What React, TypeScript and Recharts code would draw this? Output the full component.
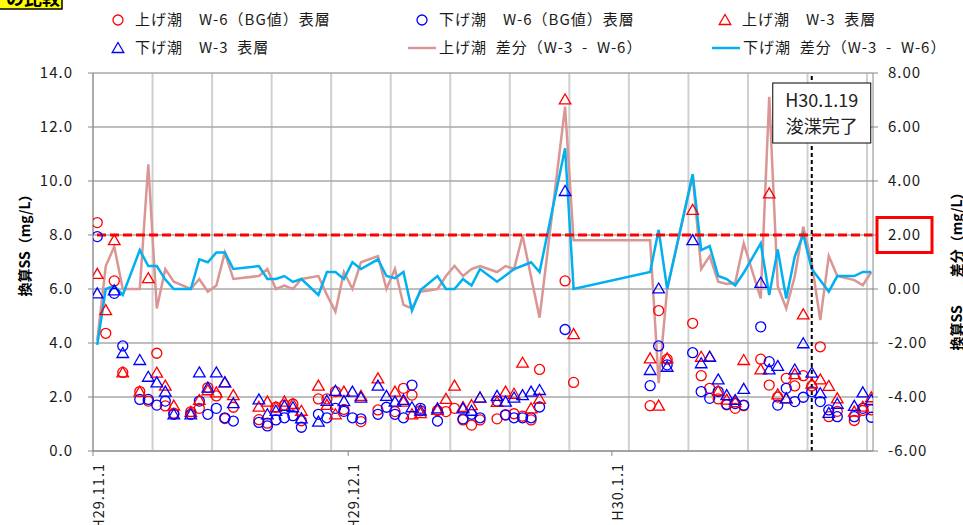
import React from 'react';
import { ComposedChart, Scatter, Line, XAxis, YAxis, CartesianGrid, ReferenceLine } from 'recharts';

// 採水日
const sampleDates = [
  '2017-11-01', '2017-11-02', '2017-11-03', '2017-11-04', '2017-11-06', '2017-11-07', '2017-11-08', '2017-11-09', '2017-11-10',
  '2017-11-12', '2017-11-13', '2017-11-14', '2017-11-15', '2017-11-16', '2017-11-17',
  '2017-11-20', '2017-11-21', '2017-11-22', '2017-11-23', '2017-11-24', '2017-11-25',
  '2017-11-27', '2017-11-28', '2017-11-29', '2017-11-30', '2017-12-01', '2017-12-02',
  '2017-12-04', '2017-12-05', '2017-12-06', '2017-12-07', '2017-12-08', '2017-12-09',
  '2017-12-11', '2017-12-12', '2017-12-13', '2017-12-14', '2017-12-15', '2017-12-16',
  '2017-12-18', '2017-12-19', '2017-12-20', '2017-12-21', '2017-12-22', '2017-12-23',
  '2017-12-26', '2017-12-27',
  '2018-01-05', '2018-01-06', '2018-01-07',
  '2018-01-10', '2018-01-11', '2018-01-12', '2018-01-13', '2018-01-14', '2018-01-15', '2018-01-16',
  '2018-01-18', '2018-01-19', '2018-01-20', '2018-01-21', '2018-01-22', '2018-01-23', '2018-01-24', '2018-01-25', '2018-01-26', '2018-01-27',
  '2018-01-29', '2018-01-30', '2018-01-31',
];

// 上げ潮 W-6（BG値）表層
const upW6 = [
  8.46, 4.36, 6.3, 2.91, 2.2, 1.85, 3.62, 1.67, 1.4,
  1.45, 1.58, 2.35, 2.04, 1.2, 1.62,
  1.16, 1.03, 1.62, 1.7, 1.74, 1.12,
  1.93, 1.93, 2.2, 1.54, null, 1.09,
  1.52, null, 1.46, 2.32, 2.07, 1.49,
  1.5, 1.46, 1.58, 1.15, 0.96, 1.15,
  1.19, 1.35, 1.38, 1.29, 1.15, 3.02,
  6.3, 2.54,
  1.68, 5.2, 3.4,
  4.73, 2.79, 2.32, 1.93, 1.71, 1.58, 1.68,
  3.4, 2.44, 2.0, 2.69, 2.41, 2.79, 2.41, 3.86, 1.27, 1.47,
  1.13, 1.5, 1.52,
];

// 下げ潮 W-6（BG値）表層
const downW6 = [
  7.94, null, 5.84, 3.89, 1.91, 1.91, 1.7, 1.85, 1.36,
  1.36, 1.85, 1.36, 1.58, 1.23, 1.11,
  1.06, 0.93, 1.15, 1.23, 1.31, 0.88,
  1.36, 1.23, 1.58, 1.47, 1.23, 1.19,
  1.36, 1.62, 1.36, 1.23, 2.44, 1.58,
  1.11, null, null, 1.19, 1.36, 1.23,
  1.85, 1.33, 1.23, 1.23, 1.23, 1.63,
  4.5, null,
  2.42, 3.89, 3.19,
  3.64, 2.2, 1.95, 2.2, 1.73, 1.76, 1.7,
  4.6, 3.31, 1.7, 2.32, 1.83, 1.99, 2.2, 1.83, 1.52, 1.27,
  1.27, 1.58, 1.25,
];

// 上げ潮 W-3 表層
const upW3 = [
  6.56, 5.22, 7.81, 2.91, 2.2, 6.4, 2.9, 2.42, 1.68,
  1.45, 1.89, 2.25, 2.17, 2.54, 2.07,
  1.64, 1.83, 1.62, 1.83, 1.74, 1.49,
  2.42, 1.71, 1.36, 2.2, null, 2.04,
  2.69, null, 2.2, 1.83, 1.36, 1.4,
  1.52, 1.93, 2.42, 1.63, 1.7, 1.98,
  1.82, 2.2, 2.12, 3.27, 1.58, 1.93,
  13.02, 4.33,
  3.43, 1.68, 3.43,
  8.93, 3.49, 3.49, 2.22, 1.9, 1.81, 3.37,
  3.02, 9.54, 2.1, 1.95, 2.85, 5.06, 2.5, 2.65, 2.41, 1.95,
  1.46, 1.64, 1.99,
];

// 下げ潮 W-3 表層
const downW3 = [
  5.84, null, 5.95, 3.63, 3.37, 2.75, 2.54, 2.2, 1.36,
  1.36, 2.91, 2.35, 2.91, 2.54, 1.77,
  1.91, 1.36, 1.49, 1.67, 1.62, 1.21,
  1.09, 1.86, 2.23, 1.85, 2.2, 1.98,
  2.42, 2.04, 1.83, 1.89, 1.62, 1.5,
  1.58, null, null, 1.58, 1.49, 1.98,
  2.04, 1.83, 1.98, 2.07, 2.2, 2.26,
  9.63, null,
  3.0, 6.02, 3.12,
  7.81, 3.25, 3.49, 2.65, 2.07, 1.89, 2.3,
  6.23, 3.02, 3.15, 1.95, 3.02, 3.99, 2.9, 2.14, 1.41, 1.75,
  1.67, 2.17, 1.89,
];

// 上げ潮 差分（W-3 - W-6）
const upDiff = [
  -1.9, 0.85, 1.57, 0.0, 0.0, 4.62, -0.72, 0.74, 0.27,
  0.0, 0.37, -0.1, 0.13, 1.35, 0.37,
  0.48, 0.74, 0.0, 0.13, 0.0, 0.37,
  0.48, -0.22, -0.84, 0.63, 0.0, 0.99,
  1.22, 0.0, 0.74, -0.59, -0.72, -0.1,
  0.0, 0.48, 0.85, 0.48, 0.74, 0.85,
  0.63, 0.85, 0.74, 1.98, 0.45, -1.06,
  6.75, 1.81,
  1.81, -3.49, 0.0,
  4.2, 0.74, 1.22, 0.27, 0.19, 0.23, 1.69,
  -0.35, 7.12, 0.1, -0.72, 0.46, 2.31, 0.95, -1.15, 1.22, 0.48,
  0.33, 0.14, 0.63,
];

// 下げ潮 差分（W-3 - W-6）
const downDiff = [
  -2.07, 0.0, 0.11, -0.22, 1.44, 0.85, 0.85, 0.35, 0.0,
  0.0, 1.1, 0.99, 1.35, 1.35, 0.74,
  0.85, 0.37, 0.37, 0.48, 0.26, 0.37,
  -0.22, 0.63, 0.63, 0.37, 0.99, 0.74,
  1.1, 0.48, 0.4, 0.63, -0.8, -0.04,
  0.48, 0.0, 0.0, 0.37, 0.13, 0.74,
  0.27, 0.5, 0.74, 0.86, 0.99, 0.63,
  5.21, 0.0,
  0.63, 2.19, 0.0,
  4.25, 1.44, 1.59, 0.48, 0.37, 0.13, 0.6,
  1.69, -0.22, 1.46, -0.35, 1.2, 2.02, 0.74, 0.32, -0.1, 0.48,
  0.48, 0.63, 0.63,
];

const leftTicks = [0, 2, 4, 6, 8, 10, 12, 14];
const rightTicks = [-6, -4, -2, 0, 2, 4, 6, 8];
const monthTickDates = ['2017-11-01', '2017-12-01', '2018-01-01'];
const monthTickLabels = ['H29.11.1', 'H29.12.1', 'H30.1.1'];
const criterionDiff = 2; // 差分の目安
const dredgeLineDate = '2018-01-24';
const dredgeLabel = ['H30.1.19', '浚渫完了'];

const FONT = '"Noto Sans CJK JP", "Noto Sans", sans-serif';
const RED = '#FF0000';
const BLUE = '#0000FF';
const PINK = '#D99694';
const CYAN = '#00B0F0';
const X_MAX = 91.7;

const ORIGIN = Date.UTC(2017, 10, 1);
const dayOf = (s: string) => {
  const [y, m, d] = s.split('-').map(Number);
  return (Date.UTC(y, m - 1, d) - ORIGIN) / 86400000;
};
// 採水は日中なので半日ずらす
const sampleX = sampleDates.map((d) => dayOf(d) + 0.5);
const monthX = monthTickDates.map(dayOf);
const weekX = Array.from({ length: 14 }, (_, i) => i * 7);

const lineRows = sampleDates.map((_, i) => ({ x: sampleX[i], up: upDiff[i], down: downDiff[i] }));
const points = (vals: (number | null)[]) =>
  vals.map((v, i) => ({ x: sampleX[i], y: v })).filter((p) => p.y != null);

const ring = (color: string) => (p: any) =>
  p.cy == null ? <g /> : <circle cx={p.cx} cy={p.cy} r={5} fill="none" stroke={color} strokeWidth={1.3} />;
const tri = (color: string) => (p: any) =>
  p.cy == null ? <g /> : (
    <path
      d={`M${p.cx},${p.cy - 5.5}L${p.cx + 5.8},${p.cy + 4.5}L${p.cx - 5.8},${p.cy + 4.5}Z`}
      fill="none"
      stroke={color}
      strokeWidth={1.3}
    />
  );

const tickStyle = { fontFamily: FONT, fontSize: 15, letterSpacing: 1, fill: '#1a1a1a' };

const LeftTick = (p: any) => (
  <text x={p.x} y={p.y} dy="0.36em" textAnchor="end" style={tickStyle}>
    {Number(p.payload.value).toFixed(1)}
  </text>
);

const RightTick = (p: any) => (
  <g>
    {p.payload.value === criterionDiff && (
      <rect x={p.x - 11} y={p.y - 17.5} width={55} height={35} fill="none" stroke={RED} strokeWidth={3} />
    )}
    <text x={p.x} y={p.y} dy="0.36em" textAnchor="start" style={tickStyle}>
      {Number(p.payload.value).toFixed(2)}
    </text>
  </g>
);

const MonthTick = (p: any) => {
  const i = monthX.indexOf(p.payload.value);
  return (
    <text
      transform={`translate(${p.x + 11},${p.y + 5}) rotate(-90)`}
      textAnchor="end"
      style={{ ...tickStyle, fontSize: 14.5, letterSpacing: 1 }}
    >
      {monthTickLabels[i]}
    </text>
  );
};

const DredgeLabel = (p: any) => {
  const vb = p.viewBox || {};
  const left = vb.x - 39;
  const top = vb.y + 10;
  const cx = left + 49;
  return (
    <g>
      <rect x={left} y={top} width={98} height={60} fill="#fff" stroke="#000" strokeWidth={1} />
      <text x={cx} y={top + 24} textAnchor="middle" style={{ fontFamily: FONT, fontSize: 18, fill: '#222' }}>
        {dredgeLabel[0]}
      </text>
      <text x={cx} y={top + 50} textAnchor="middle" style={{ fontFamily: FONT, fontSize: 18, fill: '#222' }}>
        {dredgeLabel[1]}
      </text>
    </g>
  );
};

// 週ごとの縦グリッド
const weekGrid = (props: any) => {
  const scale = props?.xAxis?.scale;
  const off = props.offset;
  return weekX.map((w) =>
    typeof scale === 'function' ? scale(w) : off.left + (w / X_MAX) * off.width,
  );
};

const legendItems = [
  { kind: 'ring', color: RED, x: 118, y: 20, text: '上げ潮　W-6（BG値）表層' },
  { kind: 'ring', color: BLUE, x: 422, y: 20, text: '下げ潮　W-6（BG値）表層' },
  { kind: 'tri', color: RED, x: 725, y: 20, text: '上げ潮　W-3  表層' },
  { kind: 'tri', color: BLUE, x: 118, y: 48, text: '下げ潮　W-3  表層' },
  { kind: 'line', color: PINK, x: 422, y: 48, text: '上げ潮  差分（W-3  -  W-6）' },
  { kind: 'line', color: CYAN, x: 726, y: 48, text: '下げ潮  差分（W-3  -  W-6）' },
];

const Overlay = () => (
  <svg width={963} height={525} style={{ position: 'absolute', left: 0, top: 0, pointerEvents: 'none' }}>
    <rect x={-2} y={-22} width={64} height={31} fill="#FFFF00" stroke="#000" strokeWidth={1.5} />
    <text x={6} y={5} style={{ fontFamily: FONT, fontSize: 18, fontWeight: 700 }}>の比較</text>
    {legendItems.map((it) => (
      <g key={it.text}>
        {it.kind === 'ring' && ring(it.color)({ cx: it.x, cy: it.y })}
        {it.kind === 'tri' && tri(it.color)({ cx: it.x, cy: it.y })}
        {it.kind === 'line' && (
          <line x1={it.x - 14} x2={it.x + 14} y1={it.y} y2={it.y} stroke={it.color} strokeWidth={2.5} />
        )}
        <text
          x={it.x + 17}
          y={it.y}
          dy="0.36em"
          style={{ fontFamily: FONT, fontSize: 15, letterSpacing: 1, whiteSpace: 'pre', fill: '#1a1a1a' }}
        >
          {it.text}
        </text>
      </g>
    ))}
    <text transform="translate(30,242) rotate(-90)" textAnchor="middle" style={{ fontFamily: FONT, fontSize: 14, fontWeight: 700 }}>
      換算SS（mg/L）
    </text>
    <text transform="translate(962,268) rotate(-90)" textAnchor="middle" style={{ fontFamily: FONT, fontSize: 14, fontWeight: 700, whiteSpace: 'pre' }}>
      換算SS　　差分（mg/L）
    </text>
  </svg>
);

export default function App() {
  return (
    <div style={{ position: 'absolute', left: 0, top: 0, width: 963, height: 525, background: '#fff' }}>
      <ComposedChart width={963} height={525} data={lineRows} margin={{ top: 73, right: 0, bottom: 0, left: 0 }}>
        <CartesianGrid
          horizontal={false}
          stroke="#d0d0d0"
          strokeWidth={2}
          verticalCoordinatesGenerator={weekGrid}
        />
        <CartesianGrid vertical={false} stroke="#a8a8a8" strokeWidth={1.3} />
        <XAxis
          dataKey="x"
          type="number"
          domain={[0, X_MAX]}
          ticks={monthX}
          allowDataOverflow
          height={74}
          tick={MonthTick}
          tickSize={5}
          axisLine={{ stroke: '#888' }}
          tickLine={{ stroke: '#888' }}
        />
        <YAxis
          domain={[0, 14]}
          ticks={leftTicks}
          width={93}
          tick={LeftTick}
          tickSize={5}
          tickMargin={15}
          axisLine={{ stroke: '#888' }}
          tickLine={{ stroke: '#888' }}
        />
        <YAxis
          yAxisId="right"
          orientation="right"
          domain={[-6, 8]}
          ticks={rightTicks}
          width={90}
          tick={RightTick}
          tickSize={5}
          tickMargin={10}
          axisLine={{ stroke: '#888' }}
          tickLine={{ stroke: '#888' }}
        />
        <Scatter data={points(upW6)} dataKey="y" shape={ring(RED)} isAnimationActive={false} />
        <Scatter data={points(downW6)} dataKey="y" shape={ring(BLUE)} isAnimationActive={false} />
        <Scatter data={points(upW3)} dataKey="y" shape={tri(RED)} isAnimationActive={false} />
        <Scatter data={points(downW3)} dataKey="y" shape={tri(BLUE)} isAnimationActive={false} />
        <Line dataKey="up" yAxisId="right" type="linear" stroke={PINK} strokeWidth={2.5} dot={false} isAnimationActive={false} />
        <Line dataKey="down" yAxisId="right" type="linear" stroke={CYAN} strokeWidth={2.5} dot={false} isAnimationActive={false} />
        <ReferenceLine y={criterionDiff} yAxisId="right" stroke={RED} strokeWidth={3} strokeDasharray="9 4" />
        <ReferenceLine
          x={dayOf(dredgeLineDate) + 0.5}
          stroke="#000"
          strokeWidth={2}
          strokeDasharray="4 3"
          label={<DredgeLabel />}
        />
      </ComposedChart>
      <Overlay />
    </div>
  );
}
